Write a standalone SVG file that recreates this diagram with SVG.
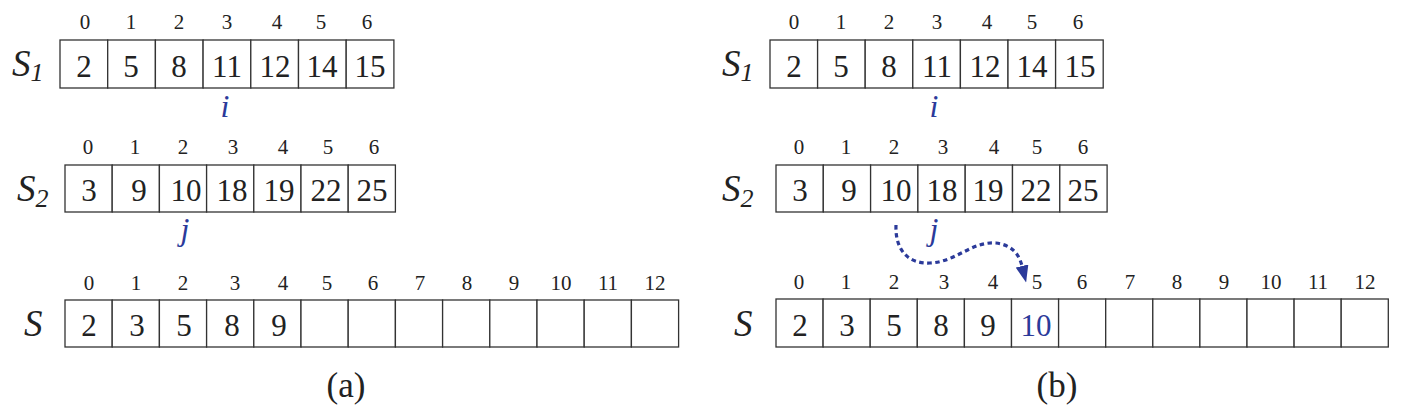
<svg xmlns="http://www.w3.org/2000/svg" width="1410" height="418" viewBox="0 0 1410 418">
<style>
.cell{fill:#fff;stroke:#333;stroke-width:1.3}
.v{font-family:"Liberation Serif","Times New Roman",serif;font-size:31px;fill:#222;text-anchor:middle}
.idx{font-family:"Liberation Serif","Times New Roman",serif;font-size:21px;fill:#222;text-anchor:middle}
.lbl{font-family:"Liberation Serif","Times New Roman",serif;font-size:37px;font-style:italic;fill:#222}
.sub{font-size:26px}
.ptr{font-family:"Liberation Serif","Times New Roman",serif;font-size:32px;font-style:italic;fill:#2b3a9a;text-anchor:middle}
.blue{fill:#2b3a9a}
.cap{font-family:"Liberation Serif","Times New Roman",serif;font-size:35px;fill:#222;text-anchor:middle}
.arr{fill:none;stroke:#2b3a9a;stroke-width:3.2;stroke-dasharray:4.5 3.5}
</style>
<defs>
<marker id="ah" markerWidth="17" markerHeight="13" refX="0" refY="5" orient="auto" markerUnits="userSpaceOnUse" viewBox="0 0 10 10" preserveAspectRatio="none">
<path d="M0,0 L10,5 L0,10 z" fill="#2b3a9a"/>
</marker>
</defs>

<!-- Panel (a) S1 -->
<g id="a-S1">
<text class="lbl" x="12" y="76">S<tspan class="sub" dy="5">1</tspan></text>
<rect class="cell" x="60" y="40" width="47.7" height="48"/>
<rect class="cell" x="107.7" y="40" width="47.7" height="48"/>
<rect class="cell" x="155.4" y="40" width="47.7" height="48"/>
<rect class="cell" x="203.1" y="40" width="47.7" height="48"/>
<rect class="cell" x="250.8" y="40" width="47.7" height="48"/>
<rect class="cell" x="298.5" y="40" width="47.7" height="48"/>
<rect class="cell" x="346.2" y="40" width="47.7" height="48"/>
<text class="idx" x="85" y="29">0</text><text class="idx" x="131" y="29">1</text><text class="idx" x="179" y="29">2</text><text class="idx" x="227" y="29">3</text><text class="idx" x="277" y="29">4</text><text class="idx" x="321" y="29">5</text><text class="idx" x="367" y="29">6</text>
<text class="v" x="84" y="77">2</text><text class="v" x="131" y="77">5</text><text class="v" x="179" y="77">8</text><text class="v" x="227" y="77">11</text><text class="v" x="275" y="77">12</text><text class="v" x="322" y="77">14</text><text class="v" x="370" y="77">15</text>
<text class="ptr" x="225" y="117">i</text>
</g>

<!-- Panel (a) S2 -->
<g id="a-S2">
<text class="lbl" x="17" y="201">S<tspan class="sub" dy="6">2</tspan></text>
<rect class="cell" x="65" y="165" width="47.2" height="47"/>
<rect class="cell" x="112.2" y="165" width="47.2" height="47"/>
<rect class="cell" x="159.4" y="165" width="47.2" height="47"/>
<rect class="cell" x="206.6" y="165" width="47.2" height="47"/>
<rect class="cell" x="253.8" y="165" width="47.2" height="47"/>
<rect class="cell" x="301" y="165" width="47.2" height="47"/>
<rect class="cell" x="348.2" y="165" width="47.2" height="47"/>
<text class="idx" x="88" y="154">0</text><text class="idx" x="135" y="154">1</text><text class="idx" x="183" y="154">2</text><text class="idx" x="233" y="154">3</text><text class="idx" x="283" y="154">4</text><text class="idx" x="328" y="154">5</text><text class="idx" x="374" y="154">6</text>
<text class="v" x="89" y="201">3</text><text class="v" x="139" y="201">9</text><text class="v" x="186" y="201">10</text><text class="v" x="232" y="201">18</text><text class="v" x="279" y="201">19</text><text class="v" x="326" y="201">22</text><text class="v" x="372" y="201">25</text>
<text class="ptr" x="185" y="240">j</text>
</g>

<!-- Panel (a) S -->
<g id="a-S">
<text class="lbl" x="24" y="336">S</text>
<rect class="cell" x="65" y="300" width="47.2" height="47"/>
<rect class="cell" x="112.2" y="300" width="47.2" height="47"/>
<rect class="cell" x="159.4" y="300" width="47.2" height="47"/>
<rect class="cell" x="206.6" y="300" width="47.2" height="47"/>
<rect class="cell" x="253.8" y="300" width="47.2" height="47"/>
<rect class="cell" x="301" y="300" width="47.2" height="47"/>
<rect class="cell" x="348.2" y="300" width="47.2" height="47"/>
<rect class="cell" x="395.4" y="300" width="47.2" height="47"/>
<rect class="cell" x="442.6" y="300" width="47.2" height="47"/>
<rect class="cell" x="489.8" y="300" width="47.2" height="47"/>
<rect class="cell" x="537" y="300" width="47.2" height="47"/>
<rect class="cell" x="584.2" y="300" width="47.2" height="47"/>
<rect class="cell" x="631.4" y="300" width="47.2" height="47"/>
<text class="idx" x="89" y="290">0</text><text class="idx" x="136" y="290">1</text><text class="idx" x="183" y="290">2</text><text class="idx" x="235" y="290">3</text><text class="idx" x="283" y="290">4</text><text class="idx" x="327" y="290">5</text><text class="idx" x="373" y="290">6</text><text class="idx" x="420" y="290">7</text><text class="idx" x="467" y="290">8</text><text class="idx" x="514" y="290">9</text><text class="idx" x="561" y="290">10</text><text class="idx" x="608" y="290">11</text><text class="idx" x="655" y="290">12</text>
<text class="v" x="89" y="336">2</text><text class="v" x="137" y="336">3</text><text class="v" x="184" y="336">5</text><text class="v" x="232" y="336">8</text><text class="v" x="279" y="336">9</text>
</g>
<text class="cap" x="346" y="397">(a)</text>

<!-- Panel (b) S1 -->
<g id="b-S1">
<text class="lbl" x="722" y="76">S<tspan class="sub" dy="5">1</tspan></text>
<rect class="cell" x="770" y="40" width="47.6" height="48"/>
<rect class="cell" x="817.6" y="40" width="47.6" height="48"/>
<rect class="cell" x="865.2" y="40" width="47.6" height="48"/>
<rect class="cell" x="912.8" y="40" width="47.6" height="48"/>
<rect class="cell" x="960.4" y="40" width="47.6" height="48"/>
<rect class="cell" x="1008" y="40" width="47.6" height="48"/>
<rect class="cell" x="1055.6" y="40" width="47.6" height="48"/>
<text class="idx" x="794" y="29">0</text><text class="idx" x="841" y="29">1</text><text class="idx" x="889" y="29">2</text><text class="idx" x="937" y="29">3</text><text class="idx" x="987" y="29">4</text><text class="idx" x="1032" y="29">5</text><text class="idx" x="1078" y="29">6</text>
<text class="v" x="794" y="77">2</text><text class="v" x="841" y="77">5</text><text class="v" x="889" y="77">8</text><text class="v" x="937" y="77">11</text><text class="v" x="985" y="77">12</text><text class="v" x="1032" y="77">14</text><text class="v" x="1080" y="77">15</text>
<text class="ptr" x="934" y="117">i</text>
</g>

<!-- Panel (b) S2 -->
<g id="b-S2">
<text class="lbl" x="722" y="201">S<tspan class="sub" dy="6">2</tspan></text>
<rect class="cell" x="776" y="165" width="47.3" height="47"/>
<rect class="cell" x="823.3" y="165" width="47.3" height="47"/>
<rect class="cell" x="870.6" y="165" width="47.3" height="47"/>
<rect class="cell" x="917.9" y="165" width="47.3" height="47"/>
<rect class="cell" x="965.2" y="165" width="47.3" height="47"/>
<rect class="cell" x="1012.5" y="165" width="47.3" height="47"/>
<rect class="cell" x="1059.8" y="165" width="47.3" height="47"/>
<text class="idx" x="799" y="154">0</text><text class="idx" x="846" y="154">1</text><text class="idx" x="894" y="154">2</text><text class="idx" x="943" y="154">3</text><text class="idx" x="994" y="154">4</text><text class="idx" x="1037" y="154">5</text><text class="idx" x="1083" y="154">6</text>
<text class="v" x="800" y="201">3</text><text class="v" x="849" y="201">9</text><text class="v" x="896" y="201">10</text><text class="v" x="942" y="201">18</text><text class="v" x="988" y="201">19</text><text class="v" x="1036" y="201">22</text><text class="v" x="1083" y="201">25</text>
<text class="ptr" x="934" y="240">j</text>
</g>

<!-- Panel (b) S -->
<g id="b-S">
<text class="lbl" x="734" y="336">S</text>
<rect class="cell" x="776" y="299" width="47.1" height="48"/>
<rect class="cell" x="823.1" y="299" width="47.1" height="48"/>
<rect class="cell" x="870.2" y="299" width="47.1" height="48"/>
<rect class="cell" x="917.3" y="299" width="47.1" height="48"/>
<rect class="cell" x="964.4" y="299" width="47.1" height="48"/>
<rect class="cell" x="1011.5" y="299" width="47.1" height="48"/>
<rect class="cell" x="1058.6" y="299" width="47.1" height="48"/>
<rect class="cell" x="1105.7" y="299" width="47.1" height="48"/>
<rect class="cell" x="1152.8" y="299" width="47.1" height="48"/>
<rect class="cell" x="1199.9" y="299" width="47.1" height="48"/>
<rect class="cell" x="1247" y="299" width="47.1" height="48"/>
<rect class="cell" x="1294.1" y="299" width="47.1" height="48"/>
<rect class="cell" x="1341.2" y="299" width="47.1" height="48"/>
<text class="idx" x="799" y="289">0</text><text class="idx" x="846" y="289">1</text><text class="idx" x="894" y="289">2</text><text class="idx" x="944" y="289">3</text><text class="idx" x="993" y="289">4</text><text class="idx" x="1037" y="289">5</text><text class="idx" x="1082" y="289">6</text><text class="idx" x="1130" y="289">7</text><text class="idx" x="1177" y="289">8</text><text class="idx" x="1224" y="289">9</text><text class="idx" x="1271" y="289">10</text><text class="idx" x="1318" y="289">11</text><text class="idx" x="1365" y="289">12</text>
<text class="v" x="800" y="336">2</text><text class="v" x="847" y="336">3</text><text class="v" x="894" y="336">5</text><text class="v" x="941" y="336">8</text><text class="v" x="988" y="336">9</text><text class="v blue" x="1036" y="336">10</text>
</g>
<text class="cap" x="1057" y="397">(b)</text>

<!-- Connectors -->
<g id="connectors">
<path class="arr" d="M896,225 C895,250 908,264 930,263 C956,262 972,241 996,243 C1012,245 1019,254 1022,266" marker-end="url(#ah)"/>
</g>
</svg>
